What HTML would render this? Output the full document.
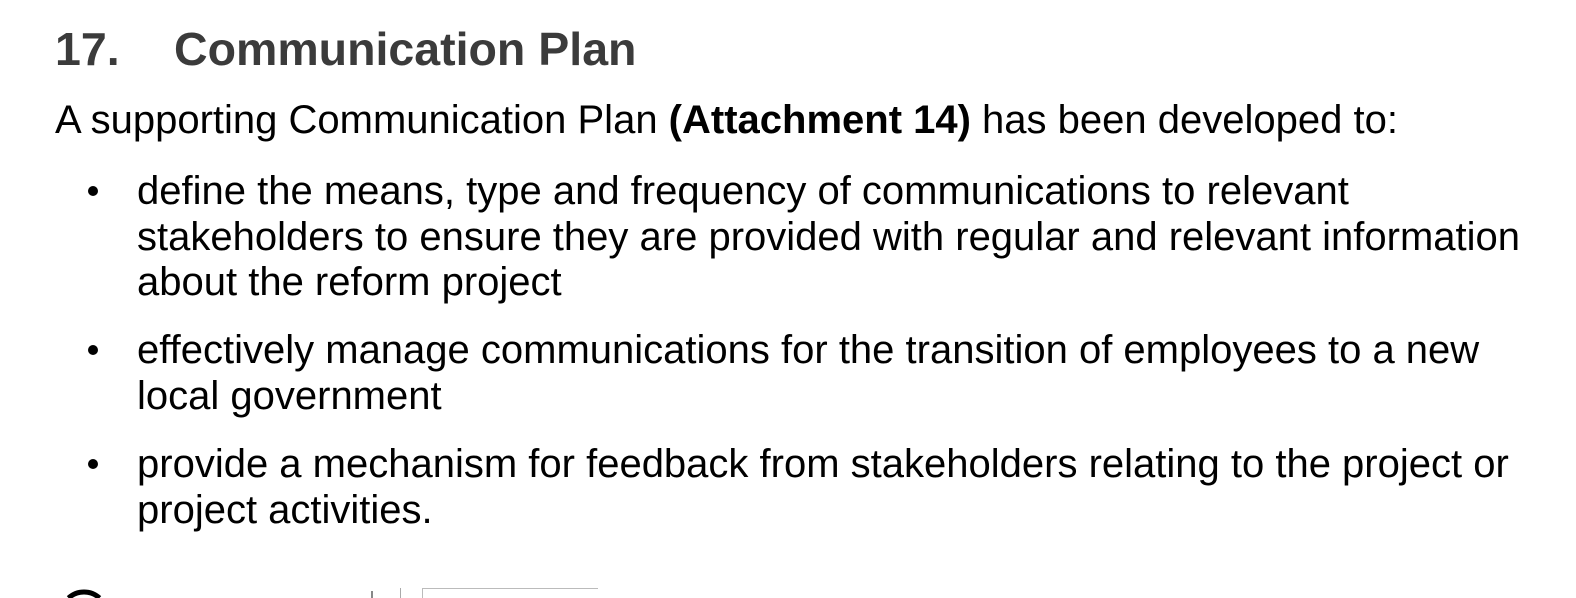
<!DOCTYPE html>
<html><head><meta charset="utf-8"><style>
html,body{margin:0;width:1576px;height:598px;overflow:hidden}
body{background:#fff;font-family:"Liberation Sans",Arial,sans-serif;color:#000;position:relative}
.t{position:absolute;white-space:nowrap;font-size:40px;line-height:40px}
h1{position:absolute;margin:0;left:55px;top:26px;font-size:46.5px;line-height:46px;color:#3b3b3b;font-weight:bold;white-space:nowrap}
.b{position:absolute;left:88px;width:10px;height:10px;border-radius:50%;background:#000}
</style></head><body>
<h1><span style="display:inline-block;width:119px">17.</span>Communication Plan</h1>
<div class="t" style="left:55px;top:100px">A supporting Communication Plan <b>(Attachment 14)</b> has been developed to:</div>
<div class="b" style="top:186px"></div>
<div class="t" style="left:137px;top:169px;line-height:45.5px">define the means, type and frequency of communications to relevant<br>stakeholders to ensure they are provided with regular and relevant information<br>about the reform project</div>
<div class="b" style="top:345px"></div>
<div class="t" style="left:137px;top:328px;line-height:45.5px">effectively manage communications for the transition of employees to a new<br>local government</div>
<div class="b" style="top:459px"></div>
<div class="t" style="left:137px;top:442px;line-height:45.5px">provide a mechanism for feedback from stakeholders relating to the project or<br>project activities.</div>
<svg style="position:absolute;left:0;top:585px;overflow:hidden" width="700" height="13">
<path d="M68.5 13 A23 23 0 0 1 99.5 13" fill="none" stroke="#000" stroke-width="5"/>
<line x1="372" y1="6" x2="372" y2="13" stroke="#888" stroke-width="2"/>
<line x1="400.5" y1="3" x2="400.5" y2="13" stroke="#aaa"/>
<path d="M422.5 13 V3.5 H598" fill="none" stroke="#bbb"/>
</svg>
</body></html>
